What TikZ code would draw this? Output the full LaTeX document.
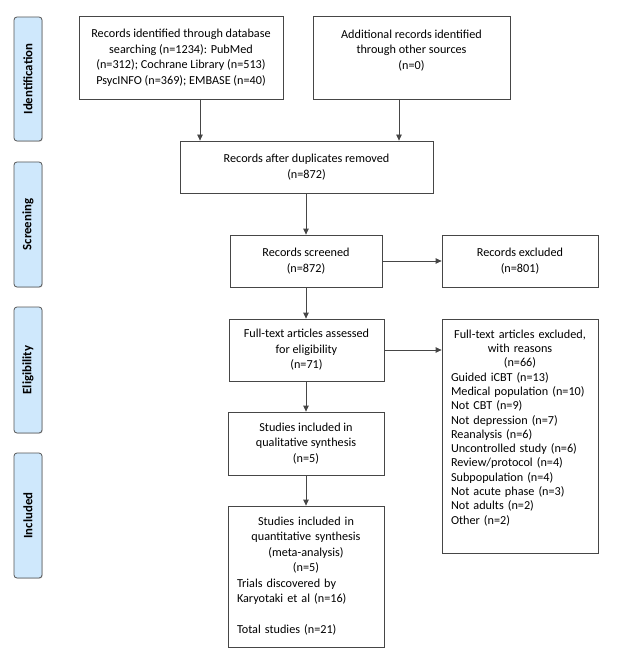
\documentclass[tikz,border=0pt]{standalone}
\usepackage{fontspec}
\setmainfont{Carlito}
\usetikzlibrary{arrows.meta,calc,shadows}
\definecolor{lineg}{RGB}{70,70,70}
\definecolor{sidefill}{RGB}{207,232,252}
\definecolor{sideline}{RGB}{85,85,85}
\newcommand{\cl}[2]{\makebox[#1][c]{#2}}
\begin{document}
\begin{tikzpicture}[x=1pt,y=-1pt,
  box/.style={draw=lineg,line width=0.8pt,rectangle,inner sep=0pt,align=center,
    font={\fontsize{12.2}{15.5}\selectfont}},
  side/.style={draw=sideline,line width=0.8pt,fill=sidefill,rounded corners=3pt,rotate=90,
    minimum height=28pt,inner sep=0pt,font={\fontsize{12.8}{15}\selectfont\bfseries},
    drop shadow={shadow xshift=0.8pt,shadow yshift=-0.8pt,opacity=0.25}},
  txt/.style={inner sep=0pt,anchor=north,align=left},
  arr/.style={draw=lineg,line width=0.8pt,-{Triangle[length=6pt,width=5.5pt]}}]
\useasboundingbox (0,0) rectangle (619,668);
% side labels
\node[side,minimum width=124pt] (s1) at (28,79) {Identification};
\node[side,minimum width=125pt] (s2) at (28,224.5) {Screening};
\node[side,minimum width=126pt] (s3) at (28,370) {Eligibility};
\node[side,minimum width=125pt] (s4) at (28,515.5) {Included};
% boxes
\node[box,minimum width=204pt,minimum height=83pt] (A) at (181,57.5)
  {Records identified through database\\searching (n=1234): PubMed\\(n=312); Cochrane Library (n=513)\\PsycINFO (n=369); EMBASE (n=40)};
\node[box,minimum width=197pt,minimum height=83pt] (B) at (411.5,57.5)
  {Additional records identified\\through other sources\\(n=0)\\\mbox{}};
\node[box,minimum width=253pt,minimum height=52pt] (C) at (306.5,167)
  {Records after duplicates removed\\(n=872)};
\node[box,minimum width=152pt,minimum height=52pt] (D) at (306,261)
  {Records screened\\(n=872)};
\node[box,minimum width=156pt,minimum height=52pt] (E) at (520,261)
  {Records excluded\\(n=801)};
\node[box,minimum width=155pt,minimum height=62pt] (F) at (306.5,350)
  {Full-text articles assessed\\for eligibility\\(n=71)};
\node[box,minimum width=156pt,minimum height=234pt] (G) at (520,436) {};
\node[box,minimum width=156pt,minimum height=63pt] (H) at (306,443.5)
  {Studies included in\\qualitative synthesis\\(n=5)};
\node[box,minimum width=156pt,minimum height=141pt] (I) at (306,576.5) {};
% top-aligned texts
\node[txt,text width=142pt,font={\fontsize{12.2}{14.3}\selectfont}] (Gt) at ($(G.north)+(2,11)$)
  {\cl{138pt}{Full-text articles excluded,}\\
   \cl{138pt}{with reasons}\\
   \cl{138pt}{(n=66)}\\
   \mbox{Guided iCBT (n=13)}\\
   \mbox{Medical population (n=10)}\\
   \mbox{Not CBT (n=9)}\\
   \mbox{Not depression (n=7)}\\
   \mbox{Reanalysis (n=6)}\\
   \mbox{Uncontrolled study (n=6)}\\
   \mbox{Review/protocol (n=4)}\\
   \mbox{Subpopulation (n=4)}\\
   \mbox{Not acute phase (n=3)}\\
   \mbox{Not adults (n=2)}\\
   \mbox{Other (n=2)}};
\node[txt,text width=138pt,font={\fontsize{12.2}{15.5}\selectfont}] (It) at ($(I.north)+(0,11)$)
  {\cl{138pt}{Studies included in}\\
   \cl{138pt}{quantitative synthesis}\\
   \cl{138pt}{(meta-analysis)}\\
   \cl{138pt}{(n=5)}\\
   Trials discovered by\\
   Karyotaki et al (n=16)\\
   \mbox{}\\
   Total studies (n=21)};
% connectors
\coordinate (a1) at (200,99);
\coordinate (b1) at (399,99);
\draw[arr] (a1) -- (a1 |- C.north);
\draw[arr] (b1) -- (b1 |- C.north);
\draw[arr] (C.south -| D.north) -- (D.north);
\draw[arr] (D.east) -- (D.east -| E.west);
\draw[arr] (D.south) -- (D.south |- F.north);
\draw[arr] (F.east) -- (F.east -| G.west);
\draw[arr] (F.south -| H.north) -- (H.north);
\draw[arr] (H.south) -- (I.north);
\end{tikzpicture}
\end{document}
